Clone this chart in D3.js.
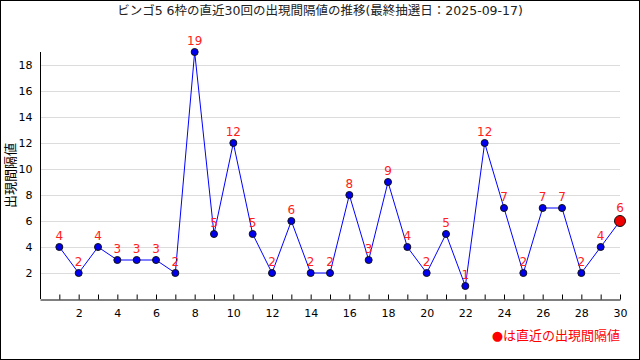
<!DOCTYPE html>
<html>
<head>
<meta charset="utf-8">
<script src="https://cdn.jsdelivr.net/npm/d3@7"></script>
<style>
  body { margin: 0; background: white; }
  text { font-family: "DejaVu Sans", "Noto Sans CJK JP", sans-serif; }
</style>
</head>
<body>
<div id="vis"></div>
<script>
// draw numbers 1..30 and interval values
let draws = d3.range(1, 31);
let intervals = [4, 2, 4, 3, 3, 3, 2, 19, 5, 12, 5, 2, 6, 2, 2, 8, 3, 9, 4, 2, 5, 1, 12, 7, 2, 7, 7, 2, 4, 6];
let yTicks = [2, 4, 6, 8, 10, 12, 14, 16, 18];
let xTicks = [2, 4, 6, 8, 10, 12, 14, 16, 18, 20, 22, 24, 26, 28, 30];

let titleText = 'ビンゴ5 6枠の直近30回の出現間隔値の推移(最終抽選日：2025-09-17)';
let yLabel = '出現間隔値';
let legendText = '●は直近の出現間隔値';

let W = 640, H = 360;
let margin = { top: 52, left: 40, right: 20, bottom: 61 };

let svg = d3.select('#vis')
  .append('svg')
  .attr('width', W)
  .attr('height', H)
  .style('display', 'block');

// outer frame
svg.append('rect')
  .attr('x', 0.5).attr('y', 0.5)
  .attr('width', W - 1).attr('height', H - 1)
  .attr('fill', 'white')
  .attr('stroke', 'black');

let x = d3.scaleLinear().domain([0, 30]).range([margin.left, W - margin.right]);
let y = d3.scaleLinear().domain([0, 19]).range([H - margin.bottom, margin.top]);

// gridlines
svg.append('g')
  .selectAll('line')
  .data(yTicks)
  .join('line')
  .attr('x1', x(0)).attr('x2', x(30))
  .attr('y1', d => Math.round(y(d)) + 0.5)
  .attr('y2', d => Math.round(y(d)) + 0.5)
  .attr('stroke', '#dcdcdc');

// y axis
let yAxis = svg.append('g')
  .attr('transform', `translate(${x(0) + 0.5},0)`)
  .call(d3.axisLeft(y).tickValues(yTicks).tickSize(0).tickPadding(8));
yAxis.select('.domain').remove();
yAxis.selectAll('text').attr('font-size', 11).attr('fill', 'black');
svg.append('line')
  .attr('x1', x(0) + 0.5).attr('x2', x(0) + 0.5)
  .attr('y1', y(19)).attr('y2', y(0))
  .attr('stroke', 'black');

// x axis: ticks at every integer, pointing up
let xAxis = svg.append('g')
  .attr('transform', `translate(0,${Math.round(y(0)) + 0.5})`)
  .call(d3.axisBottom(x).tickValues(draws).tickSize(-5).tickSizeOuter(0).tickPadding(10)
    .tickFormat(d => xTicks.includes(d) ? d : ''));
xAxis.selectAll('text').attr('font-size', 11).attr('fill', 'black');
xAxis.select('.domain').attr('stroke', 'black');

// line
svg.append('path')
  .datum(intervals)
  .attr('fill', 'none')
  .attr('stroke', '#0000ff')
  .attr('stroke-width', 1)
  .attr('d', d3.line().x((d, i) => x(draws[i])).y(d => y(d)));

// points
svg.append('g')
  .selectAll('circle')
  .data(intervals)
  .join('circle')
  .attr('cx', (d, i) => x(draws[i]))
  .attr('cy', d => y(d))
  .attr('r', (d, i) => i === intervals.length - 1 ? 5.5 : 3.5)
  .attr('fill', (d, i) => i === intervals.length - 1 ? '#ee0000' : '#0000ee')
  .attr('stroke', '#111')
  .attr('stroke-width', 1);

// value labels
svg.append('g')
  .selectAll('text')
  .data(intervals)
  .join('text')
  .attr('x', (d, i) => x(draws[i]))
  .attr('y', (d, i) => y(d) - (i === intervals.length - 1 ? 9 : 7))
  .attr('text-anchor', 'middle')
  .attr('font-size', 12)
  .attr('fill', '#ff2020')
  .text(d => d);

// title
svg.append('text')
  .attr('x', W / 2).attr('y', 15)
  .attr('text-anchor', 'middle')
  .attr('font-size', 12.5)
  .attr('fill', '#222')
  .text(titleText);

// y label
svg.append('text')
  .attr('transform', `translate(15,${(y(0) + y(19)) / 2}) rotate(-90)`)
  .attr('text-anchor', 'middle')
  .attr('font-size', 13)
  .attr('fill', 'black')
  .text(yLabel);

// legend
svg.append('text')
  .attr('x', x(30)).attr('y', 340)
  .attr('text-anchor', 'end')
  .attr('font-size', 13)
  .attr('fill', '#ff0000')
  .text(legendText);
</script>
</body>
</html>
